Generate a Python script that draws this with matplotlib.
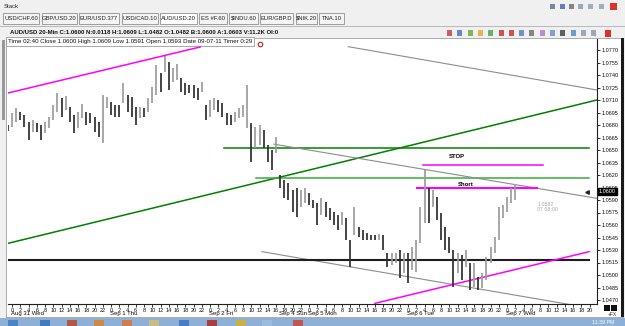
import matplotlib
matplotlib.use("Agg")
import matplotlib.pyplot as plt
import numpy as np
from matplotlib.patches import Rectangle

plt.rcParams['font.family'] = ['Liberation Sans', 'DejaVu Sans']

W, H = 625, 326

# ---- price data (hourly bars, hours counted on the trading axis from Aug 31 00:00) ----
bar_hour = np.arange(-1, 123)
bar_high = [1.0680, 1.0694, 1.0700, 1.0696, 1.0692, 1.0684, 1.0686, 1.0682, 1.0680, 1.0684,
            1.0690, 1.0704, 1.0719, 1.0712, 1.0715, 1.0702, 1.0692, 1.0696, 1.0705, 1.0696,
            1.0694, 1.0690, 1.0684, 1.0716, 1.0714, 1.0708, 1.0704, 1.0704, 1.0730, 1.0716,
            1.0714, 1.0702, 1.0702, 1.0700, 1.0712, 1.0726, 1.0752, 1.0742, 1.0764, 1.0756,
            1.0748, 1.0753, 1.0736, 1.0730, 1.0728, 1.0728, 1.0724, 1.0732, 1.0704, 1.0710,
            1.0712, 1.0710, 1.0706, 1.0694, 1.0692, 1.0696, 1.0700, 1.0704, 1.0728, 1.0682,
            1.0678, 1.0680, 1.0674, 1.0656, 1.0650, 1.0666, 1.0620, 1.0614, 1.0610, 1.0602,
            1.0604, 1.0602, 1.0604, 1.0598, 1.0590, 1.0586, 1.0592, 1.0588, 1.0580, 1.0576,
            1.0572, 1.0576, 1.0568, 1.0542, 1.0582, 1.0558, 1.0554, 1.0550, 1.0548, 1.0548,
            1.0549, 1.0548, 1.0526, 1.0526, 1.0526, 1.0530, 1.0526, 1.0526, 1.0534, 1.0542,
            1.0582, 1.0626, 1.0604, 1.0602, 1.0594, 1.0574, 1.0558, 1.0546, 1.0530, 1.0526,
            1.0524, 1.0530, 1.0514, 1.0514, 1.0498, 1.0502, 1.0522, 1.0534, 1.0546, 1.0582,
            1.0584, 1.0594, 1.0604, 1.0609]
bar_low = [1.0673, 1.0678, 1.0684, 1.0686, 1.0678, 1.0662, 1.0672, 1.0672, 1.0662, 1.0670,
           1.0676, 1.0686, 1.0696, 1.0690, 1.0698, 1.0684, 1.0670, 1.0676, 1.0688, 1.0680,
           1.0682, 1.0672, 1.0666, 1.0658, 1.0700, 1.0692, 1.0690, 1.0690, 1.0706, 1.0696,
           1.0690, 1.0680, 1.0688, 1.0690, 1.0696, 1.0706, 1.0716, 1.0720, 1.0744, 1.0722,
           1.0732, 1.0734, 1.0720, 1.0716, 1.0718, 1.0712, 1.0710, 1.0720, 1.0686, 1.0690,
           1.0698, 1.0696, 1.0690, 1.0680, 1.0680, 1.0684, 1.0688, 1.0690, 1.0676, 1.0636,
           1.0652, 1.0656, 1.0652, 1.0636, 1.0626, 1.0646, 1.0604, 1.0592, 1.0590, 1.0576,
           1.0570, 1.0582, 1.0586, 1.0584, 1.0580, 1.0560, 1.0572, 1.0570, 1.0566, 1.0560,
           1.0554, 1.0560, 1.0542, 1.0510, 1.0548, 1.0546, 1.0542, 1.0542, 1.0542, 1.0542,
           1.0542, 1.0530, 1.0510, 1.0512, 1.0514, 1.0496, 1.0502, 1.0490, 1.0506, 1.0504,
           1.0538, 1.0562, 1.0562, 1.0582, 1.0566, 1.0542, 1.0530, 1.0526, 1.0486, 1.0502,
           1.0494, 1.0510, 1.0482, 1.0486, 1.0482, 1.0484, 1.0494, 1.0514, 1.0526, 1.0542,
           1.0568, 1.0576, 1.0586, 1.0590]
last_price = 1.0600

price_ticks = [1.0770, 1.0755, 1.0740, 1.0725, 1.0710, 1.0695, 1.0680, 1.0665, 1.0650, 1.0635,
               1.0620, 1.0605, 1.0590, 1.0575, 1.0560, 1.0545, 1.0530, 1.0515, 1.0500, 1.0485,
               1.0470]
hour_ticks = np.arange(0, 141, 2)
day_names = ['Aug 31 Wed', 'Sep 1 Thu', 'Sep 2 Fri', 'Sep 4 Sun', 'Sep 5 Mon', 'Sep 6 Tue', 'Sep 7 Wed']
day_first_hour = [0, 24, 48, 65, 72, 96, 120]

# drawn lines: (hours, prices)
magenta_top = ([-0.97, 45.6], [1.07184, 1.07736])
gray_top = ([81.5, 141.8], [1.0774, 1.0722])
green_trend = ([-0.97, 141.8], [1.0538, 1.0710])
green_h1 = ([51.4, 139.9], [1.0652, 1.0652])
green_h2 = ([59.2, 139.9], [1.0617, 1.0617])
gray_mid = ([63.5, 141.8], [1.0657, 1.0592])
gray_low = ([60.6, 141.8], [1.0528, 1.0459])
black_h = ([-0.97, 139.9], [1.0518, 1.0518])
magenta_low = ([88.0, 139.9], [1.0466, 1.0528])
stop_line = ([99.6, 128.7], [1.0632, 1.0632])
short_line = ([98.2, 127.3], [1.0604, 1.0604])

tabs = ['USD/CHF.60', 'GBP/USD.20', 'EUR/USD.377', 'USD/CAD.10', 'AUD/USD.20',
        'ES #F.60', '$INDU.60', 'EUR/GBP.D', '$NIK.20', 'TNA.10']
tab_edges = [(3, 39), (42, 77), (79, 119), (122, 158), (160, 197), (199, 227),
             (229, 258), (260, 293), (296, 317), (319, 344)]
header = 'AUD/USD 20-Min C:1.0600 N:0.0118 H:1.0609 L:1.0482 O:1.0482 B:1.0600 A:1.0603 V:11.2K OI:0'
info = 'Time 02:40 Close 1.0600 High 1.0609 Low 1.0591 Open 1.0593 Date 09-07-11 Timer 0:29'

fig = plt.figure(figsize=(W / 100, H / 100), dpi=100)
fig.patch.set_facecolor('#f0f0f0')

# window chrome in pixel coords
bg = fig.add_axes([0, 0, 1, 1], zorder=0)
bg.set_xlim(0, W)
bg.set_ylim(H, 0)
bg.axis('off')


def rect(a, x0, y0, x1, y1, **kw):
    a.add_patch(Rectangle((x0, y0), x1 - x0, y1 - y0, **kw))


bg.text(4, 7, 'Stack', fontsize=4.2, va='center', color='#222222')
for i, (name, (a, b)) in enumerate(zip(tabs, tab_edges)):
    sel = name == 'AUD/USD.20'
    rect(bg, a, 12.5 if sel else 13, b, 23.5, facecolor='#ffffff' if sel else '#f4f4f4',
         edgecolor='#8e8f8f', lw=0.6)
    bg.text((a + b) / 2, 18, name, fontsize=4.2, ha='center', va='center', color='#222222')
bg.plot([0, W], [26, 26], color='#b8b8b8', lw=0.7)
bg.text(10, 33, header, fontsize=4.3, fontweight='bold', va='center', color='#111111')

# title-bar and toolbar icons
for x, c in [(550, '#4a5a7a'), (560, '#2a4aa0'), (569, '#555555'), (578, '#7a8aa0'),
             (588, '#8090a8'), (599, '#8090a8')]:
    rect(bg, x, 4, x + 5, 9, facecolor=c, edgecolor='none', alpha=0.7)
rect(bg, 610, 3, 617, 10, facecolor='#d8342c', edgecolor='none')
icon_cols = ['#c03030', '#4060c0', '#60a020', '#e0a020', '#30a040', '#c02020', '#c02020',
             '#5070b0', '#606060', '#a070d0', '#6080d0', '#303030', '#4080c0', '#8090a8', '#8090a8']
for i, c in enumerate(icon_cols):
    x = 447 + i * 10.3
    rect(bg, x, 30, x + 5, 36, facecolor=c, edgecolor='none', alpha=0.75)
rect(bg, 605, 29.5, 611, 36.5, facecolor='#d8342c', edgecolor='none')

# chart panel
rect(bg, 6, 38, 623, 317, facecolor='#ffffff', edgecolor='#a0a0a0', lw=0.6)
rect(bg, 621, 38, 624, 317, facecolor='#1a1a1a', edgecolor='none')
rect(bg, 2, 40, 5, 120, facecolor='#9a9a9a', edgecolor='none')

# taskbar
rect(bg, 0, 317.5, W, H, facecolor='#8fb0d6', edgecolor='none')
for x0, c in [(4, '#3a7ac0'), (36, '#2f6fb8'), (63, '#c04020'), (90, '#e08020'),
              (118, '#e07030'), (145, '#d8c070'), (175, '#3a70c0'), (203, '#b02020'),
              (232, '#d8b020'), (258, '#a0c0e0'), (289, '#d04030')]:
    rect(bg, x0 + 4, 319.5, x0 + 14, 326, facecolor=c, edgecolor='none', alpha=0.8)
bg.text(603, 322.5, '11:39 PM', fontsize=3.8, ha='center', va='center', color='#ffffff')

# ---- price chart ----
px_hour = 4.125
ax = fig.add_axes([8 / W, 1 - 304 / H, 589 / W, 265 / H], zorder=1)
ax.set_xlim((8 - 12) / px_hour, (597 - 12) / px_hour)
ax.set_ylim(1.0770 - 254 * 0.00012, 1.0770 + 11 * 0.00012)
ax.set_facecolor('white')

mid = (np.array(bar_high) + np.array(bar_low)) / 2
cols = ['#9c9c9c' if i > 0 and mid[i] > mid[i - 1] else '#2e2e2e' for i in range(len(mid))]
ax.vlines(bar_hour, bar_low, bar_high, colors=cols, lw=1.25, zorder=3)

ax.plot(*magenta_top, color='#ff00ff', lw=1.1, zorder=4)
ax.plot(*gray_top, color='#8c8c8c', lw=0.8, zorder=2)
ax.plot(*green_trend, color='#008000', lw=1.1, zorder=2)
ax.plot(*green_h1, color='#008000', lw=1.1, zorder=2)
ax.plot(*green_h2, color='#3caa3c', lw=1.1, zorder=2)
ax.plot(*gray_mid, color='#8c8c8c', lw=0.8, zorder=2)
ax.plot(*gray_low, color='#8c8c8c', lw=0.8, zorder=2)
ax.plot(*black_h, color='#1e1e1e', lw=1.5, zorder=2)
ax.plot(*magenta_low, color='#ff00ff', lw=1.1, zorder=2)
ax.plot(*stop_line, color='#ff00ff', lw=1.1, zorder=2)
ax.plot(*short_line, color='#ff00ff', lw=1.5, zorder=2)
ax.text(107.9, 1.06428, 'STOP', fontsize=4.3, fontweight='bold', ha='center', va='center')
ax.text(110.1, 1.06092, 'Short', fontsize=4.3, fontweight='bold', ha='center', va='center')
ax.text(127.3, 1.0582, '1.0582\n07 08:00', fontsize=3.8, color='#a8a8a8', ha='left', va='center',
        linespacing=0.95)

ax.text(0.0, 1.0, info, transform=ax.transAxes, fontsize=4.4, va='top', ha='left',
        color='#111111', bbox=dict(boxstyle='square,pad=0.25', fc='white', ec='#9a9a9a', lw=0.6))
ax.plot([60.1], [1.07775], marker='o', ms=3.3, mfc='white', mec='#c02020', mew=0.8,
        clip_on=False, zorder=6)

# axes styling
for s in ['top', 'left']:
    ax.spines[s].set_visible(False)
ax.spines['right'].set_color('#202020')
ax.spines['right'].set_linewidth(0.8)
ax.spines['bottom'].set_color('#202020')
ax.spines['bottom'].set_linewidth(0.8)
ax.yaxis.tick_right()
ax.set_yticks(price_ticks)
ax.set_yticklabels(['%.4f' % p for p in price_ticks])
ax.tick_params(axis='y', length=2, width=0.6, pad=1, labelsize=4.0, colors='#111111')
ax.set_xticks(hour_ticks)
ax.set_xticklabels(['%d' % (h % 24) for h in hour_ticks])
ax.tick_params(axis='x', length=2, width=0.6, pad=0.8, labelsize=4.0, colors='#111111')
for name, h in zip(day_names, day_first_hour):
    ax.text(h - 0.3, -0.028, name, transform=ax.get_xaxis_transform(), fontsize=4.3,
            ha='left', va='top', color='#111111', clip_on=False)

# last price box on the scale
ax.annotate('1.0600', xy=(1.0, last_price), xycoords=('axes fraction', 'data'),
            xytext=(1.5, 0), textcoords='offset points', fontsize=4.0, color='white',
            ha='left', va='center', zorder=7,
            bbox=dict(boxstyle='square,pad=0.2', fc='black', ec='black'))
ax.plot([139.3], [last_price], marker='<', ms=2.5, color='#222222', clip_on=False, zorder=6)

# corner blocks under the scale
rect(bg, 604, 305, 610, 311, facecolor='#111111', edgecolor='none', zorder=5)
rect(bg, 611, 305, 617, 311, facecolor='#111111', edgecolor='none', zorder=5)
bg.text(612, 315, '+FX', fontsize=3.6, ha='center', va='center', color='#333333', zorder=5)

fig.savefig('out.png', dpi=100, facecolor=fig.get_facecolor())
